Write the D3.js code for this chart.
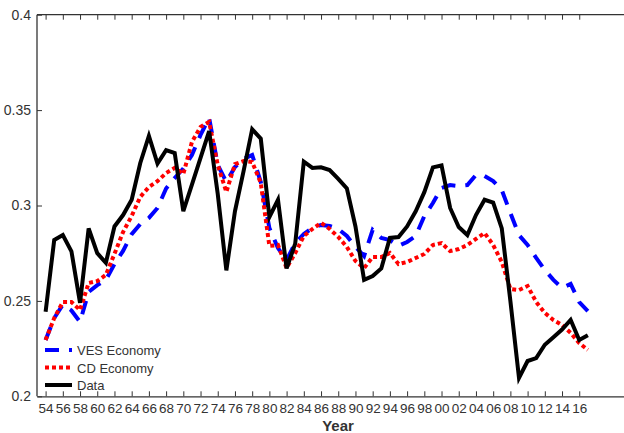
<!DOCTYPE html>
<html>
<head>
<meta charset="utf-8">
<script src="https://cdn.jsdelivr.net/npm/d3@7"></script>
<style>
  body { margin: 0; background: #fff; }
  svg { display: block; font-family: "Liberation Sans", Arial, sans-serif; }
</style>
</head>
<body>
<svg width="624" height="433"></svg>
<script>
const years = [1954,1955,1956,1957,1958,1959,1960,1961,1962,1963,1964,1965,1966,1967,1968,1969,
  1970,1971,1972,1973,1974,1975,1976,1977,1978,1979,1980,1981,1982,1983,1984,1985,1986,1987,1988,1989,
  1990,1991,1992,1993,1994,1995,1996,1997,1998,1999,2000,2001,2002,2003,2004,2005,2006,2007,2008,2009,
  2010,2011,2012,2013,2014,2015,2016,2017];

const vesEconomy = [0.2295,0.241,0.248,0.245,0.239,0.2547,0.2583,0.261,0.2693,0.2762,0.285,0.2903,0.2935,0.2987,0.3089,0.3144,
  0.3194,0.3265,0.337,0.3459,0.3212,0.3123,0.3202,0.3244,0.3265,0.3123,0.2882,0.2777,0.2714,0.2803,0.2851,0.2882,0.2898,0.2893,0.2877,0.284,
  0.2783,0.2735,0.2872,0.283,0.2819,0.2788,0.2809,0.284,0.2945,0.3013,0.3092,0.3107,0.3102,0.3107,0.316,0.3155,0.3128,0.3081,0.2961,0.2845,
  0.2793,0.2725,0.2662,0.261,0.2568,0.2589,0.2494,0.2447];

const cdEconomy = [0.2295,0.241,0.2494,0.2494,0.2452,0.2594,0.2604,0.2636,0.2746,0.2861,0.2945,0.3045,0.3097,0.3128,0.317,0.3197,
  0.3165,0.3333,0.3412,0.3438,0.3212,0.3071,0.3217,0.3233,0.3228,0.3118,0.2788,0.2793,0.2672,0.2751,0.284,0.2877,0.2909,0.2877,0.2835,0.2783,
  0.2709,0.2672,0.273,0.273,0.2751,0.2693,0.2704,0.2725,0.2746,0.2793,0.2803,0.2761,0.2772,0.2793,0.2825,0.2856,0.2793,0.2704,0.2562,0.2557,
  0.2578,0.2494,0.2437,0.24,0.2374,0.2332,0.2279,0.2243];

const dataSeries = [0.2443,0.2819,0.2845,0.276,0.249,0.288,0.275,0.27,0.289,0.295,0.303,0.3223,0.3365,0.322,0.329,0.3275,
  0.297,0.311,0.325,0.339,0.306,0.266,0.297,0.318,0.34,0.335,0.294,0.303,0.267,0.28,0.323,0.3197,0.32,0.3186,0.314,0.309,
  0.289,0.261,0.263,0.267,0.283,0.2835,0.289,0.297,0.307,0.32,0.321,0.2987,0.2887,0.2845,0.295,0.303,0.3015,0.288,0.25,0.2096,
  0.2185,0.22,0.227,0.231,0.235,0.24,0.2295,0.232];

const xTicks = [1954,1956,1958,1960,1962,1964,1966,1968,1970,1972,1974,1976,1978,1980,1982,1984,1986,1988,
  1990,1992,1994,1996,1998,2000,2002,2004,2006,2008,2010,2012,2014,2016];
const yTicks = [0.2, 0.25, 0.3, 0.35, 0.4];

const svg = d3.select("svg");

const x = d3.scaleLinear().domain([1953, 2021.2]).range([37, 624]);
const y = d3.scaleLinear().domain([0.2, 0.4]).range([396.3, 14.7]);

const axisColor = "#333";
const labelColor = "#333";

// frame lines (left, top)
svg.append("line").attr("x1", 37).attr("x2", 37).attr("y1", y(0.4)).attr("y2", y(0.2))
  .attr("stroke", axisColor).attr("stroke-width", 1.3);
svg.append("line").attr("x1", 37).attr("x2", 624).attr("y1", y(0.4)).attr("y2", y(0.4))
  .attr("stroke", axisColor).attr("stroke-width", 1.3);

// bottom axis, ticks inward
const xAxis = svg.append("g").attr("transform", `translate(0,${y(0.2)})`)
  .call(d3.axisBottom(x).tickValues(xTicks).tickSizeInner(-5).tickSizeOuter(0)
    .tickFormat(d => String(d % 100).padStart(2, "0")));
xAxis.select(".domain").attr("stroke", axisColor).attr("stroke-width", 1.3);
xAxis.selectAll(".tick line").attr("stroke", axisColor);
xAxis.selectAll("text").attr("font-size", 13.5).attr("fill", labelColor).attr("y", 7.5)
  .attr("font-family", "'Liberation Sans', Arial, sans-serif");

// top ticks
const xTop = svg.append("g").attr("transform", `translate(0,${y(0.4)})`)
  .call(d3.axisTop(x).tickValues(xTicks).tickSizeInner(-5).tickSizeOuter(0).tickFormat(""));
xTop.select(".domain").remove();
xTop.selectAll(".tick line").attr("stroke", axisColor);

// left axis
const yAxis = svg.append("g").attr("transform", "translate(37,0)")
  .call(d3.axisLeft(y).tickValues(yTicks).tickSizeInner(-5).tickSizeOuter(0).tickFormat(d3.format("~g")));
yAxis.select(".domain").remove();
yAxis.selectAll(".tick line").attr("stroke", axisColor);
yAxis.selectAll("text").attr("font-size", 14).attr("fill", labelColor).attr("x", -6)
  .attr("font-family", "'Liberation Sans', Arial, sans-serif");

svg.append("text").attr("x", 338).attr("y", 431).attr("text-anchor", "middle")
  .attr("font-size", 15).attr("font-weight", "bold").attr("fill", labelColor).text("Year");

const line = d3.line().x((d, i) => x(years[i])).y(d => y(d));

const series = [
  { name: "VES Economy", values: vesEconomy, color: "#0000ff", dash: "14,10" },
  { name: "CD Economy", values: cdEconomy, color: "#ff0000", dash: "4,3" },
  { name: "Data", values: dataSeries, color: "#000000", dash: null }
];

svg.selectAll(".series")
  .data(series)
  .join("path")
  .attr("class", "series")
  .attr("d", d => line(d.values))
  .attr("fill", "none")
  .attr("stroke", d => d.color)
  .attr("stroke-width", 4)
  .attr("stroke-dasharray", d => d.dash)
  .attr("stroke-linejoin", "miter");

// legend
const legend = svg.append("g");
series.forEach((s, i) => {
  const ly = 350 + i * 17.5;
  legend.append("line").attr("x1", 45).attr("x2", 72).attr("y1", ly).attr("y2", ly)
    .attr("stroke", s.color).attr("stroke-width", 4).attr("stroke-dasharray", s.dash);
  legend.append("text").attr("x", 77).attr("y", ly + 5).attr("font-size", 13)
    .attr("fill", labelColor).text(s.name);
});
</script>
</body>
</html>
